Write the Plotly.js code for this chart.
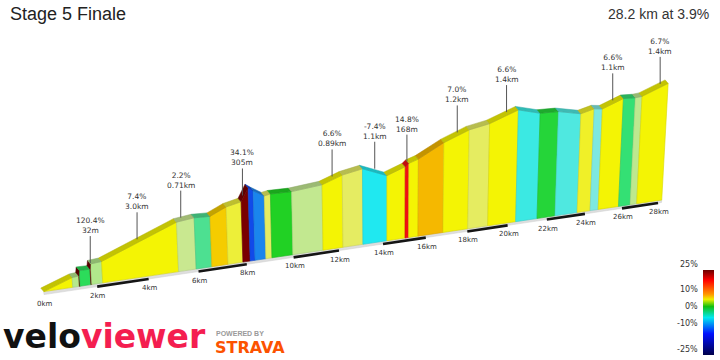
<!DOCTYPE html>
<html><head><meta charset="utf-8">
<script src="https://cdn.plot.ly/plotly-3.0.1.min.js"></script>
<style>html,body{margin:0;padding:0;background:#fff}#chart{width:720px;height:360px}</style>
</head><body><div id="chart"></div>
<script>
// ---------------- DATA ----------------
const distanceKm = [0, 1.08, 1.33, 1.36, 1.768, 1.80, 2.22, 5.20, 5.91, 6.55, 7.22, 7.84, 8.145, 8.35, 8.81, 9.07, 9.97, 11.29, 12.18, 13.08, 14.18, 15.02, 15.188, 15.63, 16.82, 18.02, 19.0, 20.4, 21.49, 22.42, 23.58, 24.27, 24.70, 25.80, 26.44, 26.80, 28.20];
const elevationM = [0, 73, 77, 118, 116, 154.5, 161, 382, 398, 393, 450, 476, 580, 552, 499, 508, 506, 530, 589, 620, 539, 594, 619, 645, 758, 842, 876, 968, 919, 916, 875, 906, 897, 970, 966, 972, 1066];
const rulerKm = [0, 2, 4, 6, 8, 10, 12, 14, 16, 18, 20, 22, 24, 26, 28];
const rulerLabels = ['0km','2km','4km','6km','8km','10km','12km','14km','16km','18km','20km','22km','24km','26km','28km'];
const climbAtKm = [1.784, 3.62, 5.37, 7.9, 11.73, 13.63, 15.1, 17.45, 19.82, 25.24, 27.77];
const climbGrade = ['120.4%', '7.4%', '2.2%', '34.1%', '6.6%', '-7.4%', '14.8%', '7.0%', '6.6%', '6.6%', '6.7%'];
const climbLength = ['32m', '3.0km', '0.71km', '305m', '0.89km', '1.1km', '168m', '1.2km', '1.4km', '1.1km', '1.4km'];
const scaleTicks = [25, 10, 0, -10, -25];
const titleText = 'Stage 5 Finale';
const summaryText = '28.2 km at 3.9%';

// ---------------- VIEW (pseudo-3D projection) ----------------
const P = 27.40, Q = 44, R = 0.008312, S = -1.586, T = 294.6, KZ = 0.135, XV = 392, DV = 4900;
const PLATE = 3 / KZ;
const DEPTH = [-3, -3.5];
function proj(u, z) {
  const w = 1 + R * u;
  const xb = (P * u + Q) / w, yb = (S * u + T) / w;
  const hs = KZ * z / w;
  return [xb + (xb - XV) * hs / DV, yb - hs];
}
const gradeStops = [
  [-25, '#000050'], [-14, '#1040e8'], [-10, '#20b0f0'], [-7, '#20f0f0'], [-4, '#40e8e0'],
  [-2, '#80e8e0'], [-0.8, '#50e094'], [-0.6, '#30e070'], [-0.2, '#20d020'], [0.6, '#60e060'],
  [1.2, '#90e880'], [1.7, '#c0e890'], [2.4, '#cce890'], [3.5, '#e6ec60'], [4.5, '#f0f028'],
  [5.5, '#f4f404'], [7.6, '#f4f404'], [8.5, '#f5cc00'], [9.5, '#f5b800'], [12, '#f06000'],
  [14.8, '#f01010'], [20, '#b00000'], [30, '#7a0000'], [200, '#620000']
];
function hex2rgb(h) { return [parseInt(h.slice(1,3),16), parseInt(h.slice(3,5),16), parseInt(h.slice(5,7),16)]; }
function rgb(c, f) { f = f || 1; return 'rgb(' + c.map(v => Math.round(Math.min(255, v * f))).join(',') + ')'; }
function gradeColor(g) {
  if (g <= gradeStops[0][0]) return hex2rgb(gradeStops[0][1]);
  for (let i = 1; i < gradeStops.length; i++) {
    if (g <= gradeStops[i][0]) {
      const [g0, c0] = gradeStops[i-1], [g1, c1] = gradeStops[i];
      const t = (g - g0) / (g1 - g0), a = hex2rgb(c0), b = hex2rgb(c1);
      return a.map((v, k) => v + (b[k] - v) * t);
    }
  }
  return hex2rgb(gradeStops[gradeStops.length-1][1]);
}
function elevAt(u) {
  for (let i = 1; i < distanceKm.length; i++) {
    if (u <= distanceKm[i]) {
      const t = (u - distanceKm[i-1]) / (distanceKm[i] - distanceKm[i-1]);
      return elevationM[i-1] + t * (elevationM[i] - elevationM[i-1]);
    }
  }
  return elevationM[elevationM.length-1];
}

const traces = [];
const last = distanceKm[distanceKm.length-1];
// base plate
{
  const a = proj(0, 0), b = proj(last, 0), c = proj(last, PLATE), d = proj(0, PLATE);
  traces.push({x: [a[0], b[0], c[0], d[0], a[0]], y: [a[1], b[1], c[1], d[1], a[1]], mode: 'lines', fill: 'toself',
    fillcolor: '#dedede', line: {width: 0.5, color: '#cfcfcf'}, hoverinfo: 'skip', showlegend: false});
}
// ruler (alternate black 2 km pieces)
{
  const xs = [], ys = [];
  for (let k = 1; k + 1 < rulerKm.length; k += 2) {
    const a = proj(rulerKm[k], 0), b = proj(rulerKm[k+1], 0);
    xs.push(a[0], b[0], null); ys.push(a[1], b[1], null);
  }
  traces.push({x: xs, y: ys, mode: 'lines', line: {width: 2.6, color: '#151515'}, hoverinfo: 'skip', showlegend: false});
}
// faces
const tops = [];
for (let i = 0; i < distanceKm.length - 1; i++) {
  const u0 = distanceKm[i], u1 = distanceKm[i+1], z0 = elevationM[i], z1 = elevationM[i+1];
  const g = (z1 - z0) / ((u1 - u0) * 1000) * 100;
  const col = gradeColor(g);
  const a = proj(u0, PLATE), b = proj(u0, PLATE + z0), c = proj(u1, PLATE + z1), d = proj(u1, PLATE);
  traces.push({x: [a[0], b[0], c[0], d[0], a[0]], y: [a[1], b[1], c[1], d[1], a[1]], mode: 'lines', fill: 'toself',
    fillcolor: rgb(col), line: {width: 0.6, color: rgb(col, 0.88)}, hoverinfo: 'skip', showlegend: false});
  tops.push([b, c, col]);
}
// top surface strip
for (const [b, c, col] of tops) {
  const xs = [b[0], c[0], c[0] + DEPTH[0], b[0] + DEPTH[0], b[0]];
  const ys = [b[1], c[1], c[1] + DEPTH[1], b[1] + DEPTH[1], b[1]];
  traces.push({x: xs, y: ys, mode: 'lines', fill: 'toself', fillcolor: rgb(col, 0.8),
    line: {width: 0.5, color: rgb(col, 0.72)}, hoverinfo: 'skip', showlegend: false});
}
// colour scale (legend only)
const barScale = [[0, '#00004a'], [0.25, '#0010ff'], [0.44, '#00e8f0'], [0.57, '#10c010'], [0.655, '#f0f000'],
  [0.714, '#ff9800'], [0.88, '#ff0000'], [1, '#6a0000']];
const BAR_TOP = 270, BAR_LEN = 85;
traces.push({x: [-50], y: [-50], mode: 'markers', hoverinfo: 'skip', showlegend: false,
  marker: {color: [0], cmin: scaleTicks[scaleTicks.length-1], cmax: scaleTicks[0], colorscale: barScale, showscale: true, opacity: 0,
    colorbar: {x: 703 / 720, xanchor: 'left', xpad: 0, ypad: 0, y: 1 - (BAR_TOP + BAR_LEN / 2) / 360, yanchor: 'middle',
      lenmode: 'pixels', len: BAR_LEN, thickness: 11, outlinewidth: 0, showticklabels: false, ticks: ''}}});

const annotations = [];
const sansFam = 'DejaVu Sans, Verdana, sans-serif';
const lblFont = {family: sansFam, size: 7.5, color: '#333'};
rulerKm.forEach((k, i) => {
  const p = proj(k, 0);
  annotations.push({x: p[0], y: p[1], xref: 'x', yref: 'y', text: rulerLabels[i], showarrow: false,
    xanchor: 'center', yanchor: 'middle', xshift: 1, yshift: -9, font: {family: sansFam, size: 7, color: '#333'}});
});
climbAtKm.forEach((k, i) => {
  const p = proj(k, PLATE + elevAt(k));
  annotations.push({x: p[0], y: p[1] + DEPTH[1], xref: 'x', yref: 'y', text: climbGrade[i] + '<br>' + climbLength[i],
    showarrow: true, arrowhead: 0, arrowwidth: 1, arrowcolor: '#555', ax: 0, ay: -27, standoff: 0,
    xanchor: 'center', yanchor: 'bottom', borderpad: 0, font: lblFont});
});
scaleTicks.forEach(v => {
  const y = BAR_TOP + (scaleTicks[0] - v) / (scaleTicks[0] - scaleTicks[scaleTicks.length-1]) * BAR_LEN;
  annotations.push({x: 699 / 720, y: 1 - y / 360, xref: 'paper', yref: 'paper', text: v + '%', showarrow: false,
    xanchor: 'right', yanchor: 'middle', yshift: 6, borderpad: 0, font: {family: sansFam, size: 8, color: '#333'}});
});
const headFam = 'Liberation Sans, Arial, Helvetica, sans-serif';
annotations.push({x: 8 / 720, y: 1 - 14 / 360, xref: 'paper', yref: 'paper', text: titleText, showarrow: false,
  xanchor: 'left', yanchor: 'middle', font: {family: headFam, size: 18, color: '#222'}});
annotations.push({x: 711 / 720, y: 1 - 14 / 360, xref: 'paper', yref: 'paper', text: summaryText, showarrow: false,
  xanchor: 'right', yanchor: 'middle', font: {family: headFam, size: 14, color: '#333'}});
annotations.push({x: 1 / 720, y: 1 - 336 / 360, xref: 'paper', yref: 'paper',
  text: '<b><span style="color:#111">velo</span><span style="color:#f41e50">viewer</span></b>', showarrow: false,
  xanchor: 'left', yanchor: 'middle', font: {family: 'DejaVu Sans, sans-serif', size: 33, weight: 'bold', color: '#111'}});
annotations.push({x: 214 / 720, y: 1 - 333 / 360, xref: 'paper', yref: 'paper', text: '<b>POWERED BY</b>', showarrow: false,
  xanchor: 'left', yanchor: 'middle', font: {family: headFam, size: 7, color: '#9a9a9a'}});
annotations.push({x: 213 / 720, y: 1 - 347 / 360, xref: 'paper', yref: 'paper', text: '<b>STRAVA</b>', showarrow: false,
  xanchor: 'left', yanchor: 'middle', font: {family: 'DejaVu Sans, sans-serif', size: 16, weight: 'bold', color: '#fc5200'}});

const layout = {
  width: 720, height: 360, margin: {l: 0, r: 0, t: 0, b: 0}, paper_bgcolor: '#fff', plot_bgcolor: '#fff',
  xaxis: {range: [0, 720], visible: false, fixedrange: true},
  yaxis: {range: [360, 0], visible: false, fixedrange: true},
  showlegend: false, annotations: annotations
};
Plotly.newPlot('chart', traces, layout, {displayModeBar: false, staticPlot: true});
</script></body></html>
